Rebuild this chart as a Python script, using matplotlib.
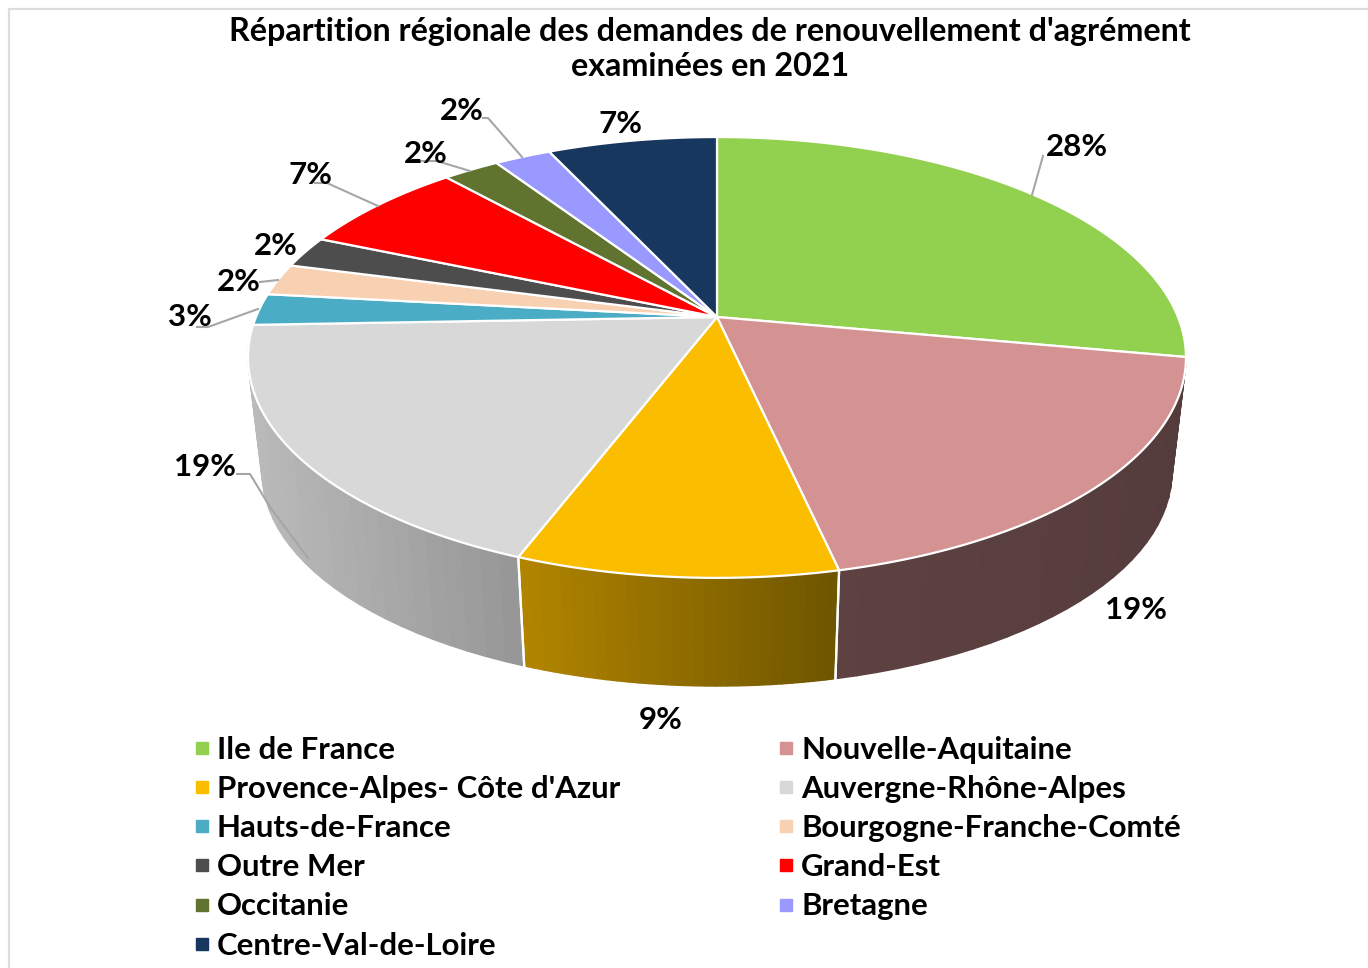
import numpy as np
import matplotlib
matplotlib.use("Agg")
import matplotlib.pyplot as plt
from matplotlib.lines import Line2D

plt.rcParams['font.family'] = ['Lato', 'DejaVu Sans']

regions = ["Ile de France", "Nouvelle-Aquitaine", "Provence-Alpes- Côte d'Azur",
           "Auvergne-Rhône-Alpes", "Hauts-de-France", "Bourgogne-Franche-Comté",
           "Outre Mer", "Grand-Est", "Occitanie", "Bretagne", "Centre-Val-de-Loire"]
demandes = [12, 8, 4, 8, 1, 1, 1, 3, 1, 1, 3]
pct_labels = ["28%", "19%", "9%", "19%", "3%", "2%", "2%", "7%", "2%", "2%", "7%"]
colors = ["#92D050", "#D59292", "#FBBD00", "#D8D8D8", "#4BACC6", "#F8D0B2",
          "#4D4D4D", "#FF0000", "#60732F", "#9999FF", "#17375E"]
# couleurs du flanc visible (gauche, droite de l'écran)
side_colors = {1: ("#5E4242", "#553C3C"), 2: ("#B28500", "#6E5500"), 3: ("#BABABA", "#969696")}

label_pos = [(1077, 147), (1136, 610), (661, 720), (205, 467), (190, 317), (239, 282),
             (276, 246), (311, 175), (426, 154), (462, 111), (620, 124)]
leaders = {0: [(1032, 195), (1043, 156)],
           3: [(308, 558), (270, 507), (250, 474), (237, 474)],
           4: [(258, 309), (208, 327), (197, 327)],
           5: [(278, 280), (260, 282)],
           7: [(378, 206), (327, 183), (315, 183)],
           8: [(470, 171), (437, 161), (422, 161)],
           9: [(522, 157), (488, 118), (483, 118)]}


# projection du disque (perspective) vers les pixels
def project(theta, r=1.0, scale=1.0, cy=317.0):
    x = r * np.sin(theta)
    y = r * np.cos(theta)
    w = 1 + 0.1835 * y
    return 717 + scale * 461 * x / w, cy - scale * 213 * y / w


def lerp_color(c1, c2, t):
    a = np.array(matplotlib.colors.to_rgb(c1))
    b = np.array(matplotlib.colors.to_rgb(c2))
    return a + (b - a) * t


fig = plt.figure(figsize=(13.68, 9.68), dpi=100)
ax = fig.add_axes([0, 0, 1, 1])
ax.set_xlim(0, 1368)
ax.set_ylim(968, 0)
ax.axis("off")

ax.plot([9, 9, 1368], [968, 9, 9], color="#DCDCDC", lw=1.6, zorder=1)

edges = 2 * np.pi * np.concatenate([[0], np.cumsum(demandes)]) / sum(demandes)

# flanc
for i, (c_left, c_right) in side_colors.items():
    th = np.linspace(edges[i], edges[i + 1], 30)
    xt, yt = project(th)
    xb, yb = project(th, scale=0.97, cy=433)
    x_min, x_max = xt.min(), xt.max()
    for j in range(len(th) - 1):
        t = ((xt[j] + xt[j + 1]) / 2 - x_min) / (x_max - x_min)
        col = lerp_color(c_left, c_right, t)
        ax.fill([xt[j], xt[j + 1], xb[j + 1], xb[j]], [yt[j], yt[j + 1], yb[j + 1], yb[j]],
                facecolor=col, edgecolor=col, lw=1.0, zorder=2)
    # séparation blanche entre les flancs
    for k in (edges[i], edges[i + 1]):
        if (i == 1 and k == edges[1]) or (i == 3 and k == edges[4]):
            continue
        xa, ya = project(k)
        xc, yc = project(k, scale=0.97, cy=433)
        ax.plot([xa, xc], [ya, yc], color="white", lw=1.6, zorder=3)

# dessus
for i in range(len(demandes)):
    th = np.linspace(edges[i], edges[i + 1], 100)
    xs, ys = project(th)
    ax.fill(np.r_[717, xs], np.r_[317, ys], facecolor=colors[i], edgecolor="white",
            lw=1.6, joinstyle="round", zorder=4)

for i, pts in leaders.items():
    ax.plot([p[0] for p in pts], [p[1] for p in pts], color="#A6A6A6", lw=1.5, zorder=5)

for lab, (px, py) in zip(pct_labels, label_pos):
    ax.text(px, py, lab, ha="center", va="center", fontsize=22.5, fontweight="bold",
            color="black", zorder=6)

ax.text(710, 49, "Répartition régionale des demandes de renouvellement d'agrément\nexaminées en 2021",
        ha="center", va="center", fontsize=23.2, fontweight="bold", color="black",
        linespacing=1.22, zorder=6)

# légende : remplie par colonnes, lue par lignes
order = list(range(0, 11, 2)) + list(range(1, 11, 2))
handles = [Line2D([], [], linestyle="none", marker="s", markersize=8, color=colors[i]) for i in order]
ax.legend(handles, [regions[i] for i in order], ncol=2, frameon=False,
          loc="upper left", bbox_to_anchor=(193 / 1368, 1 - 736 / 968),
          prop={"size": 22.4, "weight": "bold"}, handlelength=0.55, handletextpad=0.22,
          labelspacing=0.357, columnspacing=5.05, borderpad=0, borderaxespad=0)

fig.savefig("out.png", dpi=100)
